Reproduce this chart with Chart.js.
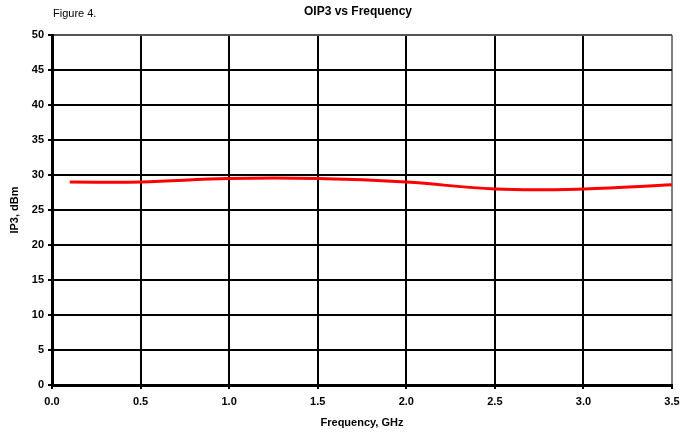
<!DOCTYPE html>
<html>
<head>
<meta charset="utf-8">
<script src="https://cdn.jsdelivr.net/npm/chart.js@4"></script>
<style>
  html, body { margin: 0; padding: 0; background: #fff; }
  #wrap { width: 681px; height: 436px; }
</style>
</head>
<body>
<div id="wrap"><canvas id="chart" width="681" height="436"></canvas></div>
<script>
// values
const freqGHz = [0.1, 0.5, 1.0, 1.5, 2.0, 2.5, 3.0, 3.5];
const oip3dBm = [29.0, 29.0, 29.5, 29.5, 29.0, 28.0, 28.0, 28.6];
const chartTitle = "OIP3 vs Frequency";
const figureLabel = "Figure 4.";

const FONT = "'Liberation Sans', Arial, sans-serif";

const headerText = {
  id: "headerText",
  afterDraw(chart) {
    const ctx = chart.ctx;
    ctx.save();
    ctx.fillStyle = "#000";
    ctx.textBaseline = "middle";
    ctx.font = "11px " + FONT;
    ctx.textAlign = "left";
    ctx.fillText(figureLabel, 53, 14);
    ctx.font = "bold 12px " + FONT;
    ctx.textAlign = "center";
    ctx.fillText(chartTitle, 358, 12);
    ctx.restore();
  }
};

new Chart(document.getElementById("chart"), {
  type: "scatter",
  data: {
    datasets: [{
      data: freqGHz.map((f, i) => ({ x: f, y: oip3dBm[i] })),
      showLine: true,
      borderColor: "#ff0000",
      borderWidth: 3,
      pointRadius: 0,
      tension: 0.4,
      clip: false
    }]
  },
  options: {
    responsive: false,
    animation: false,
    layout: { padding: { top: 35, right: 9, left: 0, bottom: 0 } },
    plugins: {
      legend: { display: false },
      title: { display: false },
      tooltip: { enabled: false }
    },
    scales: {
      x: {
        type: "linear",
        min: 0, max: 3.5,
        afterFit: s => { s.height = 51; s.paddingLeft = 0; s.paddingRight = 0; },
        ticks: {
          stepSize: 0.5,
          color: "#000",
          padding: 6,
          font: { family: FONT, size: 11, weight: "bold" },
          callback: v => v.toFixed(1)
        },
        grid: {
          color: c => (c.tick && c.tick.value === 3.5) ? "#808080" : "#000",
          lineWidth: 2,
          tickLength: 4,
          tickColor: "#000"
        },
        border: { color: "#000", width: 3 },
        title: {
          display: true,
          text: "Frequency, GHz",
          color: "#000",
          padding: { top: 0, bottom: 6 },
          font: { family: FONT, size: 11, weight: "bold" }
        }
      },
      y: {
        min: 0, max: 50,
        afterFit: s => { s.width = 52; s.paddingTop = 0; s.paddingBottom = 0; },
        ticks: {
          stepSize: 5,
          color: "#000",
          padding: 4,
          font: { family: FONT, size: 11, weight: "bold" }
        },
        grid: {
          color: c => (c.tick && c.tick.value === 50) ? "#555" : "#000",
          lineWidth: 2,
          tickLength: 4,
          tickColor: "#000"
        },
        border: { color: "#000", width: 3 },
        title: {
          display: true,
          text: "IP3, dBm",
          color: "#000",
          padding: { top: 8, bottom: 0 },
          font: { family: FONT, size: 11, weight: "bold" }
        }
      }
    }
  },
  plugins: [headerText]
});
</script>
</body>
</html>
